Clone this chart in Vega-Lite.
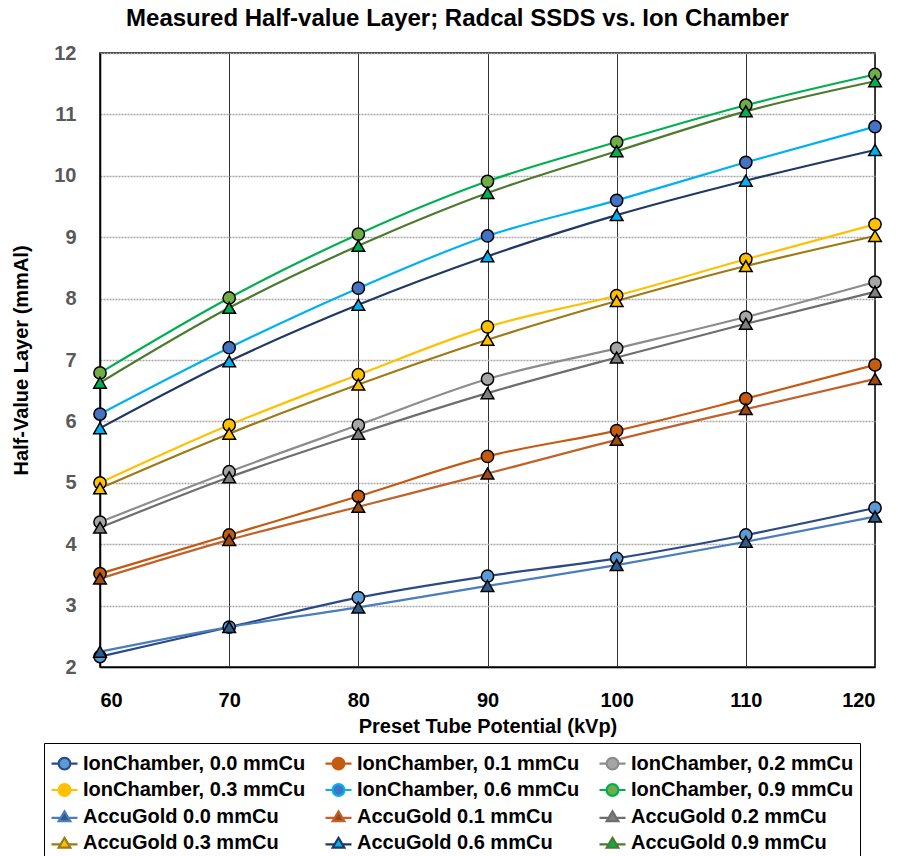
{
  "$schema": "https://vega.github.io/schema/vega-lite/v6.json",
  "autosize": {"type": "none"},
  "width": 775,
  "height": 614,
  "padding": {"left": 100, "top": 53, "right": 23, "bottom": 189},
  "background": "white",
  "title": {
    "text": "Measured Half-value Layer; Radcal SSDS vs. Ion Chamber",
    "font": "Liberation Sans",
    "fontSize": 24,
    "fontWeight": "bold",
    "color": "#000000",
    "anchor": "middle",
    "dx": -30,
    "offset": 12
  },
  "config": {
    "view": {"stroke": "#000000", "strokeWidth": 1.5},
    "axis": {
      "labelFont": "Liberation Sans",
      "titleFont": "Liberation Sans",
      "labelFontWeight": "bold",
      "titleFontWeight": "bold",
      "labelFontSize": 20,
      "titleFontSize": 20,
      "titleColor": "#000000",
      "ticks": false,
      "domainColor": "#000000",
      "domainWidth": 1.5
    }
  },
  "data": {
    "values": [
      {"series": "IonChamber, 0.0 mmCu", "kvp": 60, "hvl": 2.17},
      {"series": "IonChamber, 0.0 mmCu", "kvp": 70, "hvl": 2.65},
      {"series": "IonChamber, 0.0 mmCu", "kvp": 80, "hvl": 3.13},
      {"series": "IonChamber, 0.0 mmCu", "kvp": 90, "hvl": 3.48},
      {"series": "IonChamber, 0.0 mmCu", "kvp": 100, "hvl": 3.77},
      {"series": "IonChamber, 0.0 mmCu", "kvp": 110, "hvl": 4.15},
      {"series": "IonChamber, 0.0 mmCu", "kvp": 120, "hvl": 4.59},
      {"series": "IonChamber, 0.1 mmCu", "kvp": 60, "hvl": 3.52},
      {"series": "IonChamber, 0.1 mmCu", "kvp": 70, "hvl": 4.15},
      {"series": "IonChamber, 0.1 mmCu", "kvp": 80, "hvl": 4.78},
      {"series": "IonChamber, 0.1 mmCu", "kvp": 90, "hvl": 5.43},
      {"series": "IonChamber, 0.1 mmCu", "kvp": 100, "hvl": 5.85},
      {"series": "IonChamber, 0.1 mmCu", "kvp": 110, "hvl": 6.37},
      {"series": "IonChamber, 0.1 mmCu", "kvp": 120, "hvl": 6.92},
      {"series": "IonChamber, 0.2 mmCu", "kvp": 60, "hvl": 4.36},
      {"series": "IonChamber, 0.2 mmCu", "kvp": 70, "hvl": 5.18},
      {"series": "IonChamber, 0.2 mmCu", "kvp": 80, "hvl": 5.94},
      {"series": "IonChamber, 0.2 mmCu", "kvp": 90, "hvl": 6.69},
      {"series": "IonChamber, 0.2 mmCu", "kvp": 100, "hvl": 7.19},
      {"series": "IonChamber, 0.2 mmCu", "kvp": 110, "hvl": 7.70},
      {"series": "IonChamber, 0.2 mmCu", "kvp": 120, "hvl": 8.27},
      {"series": "IonChamber, 0.3 mmCu", "kvp": 60, "hvl": 5.00},
      {"series": "IonChamber, 0.3 mmCu", "kvp": 70, "hvl": 5.94},
      {"series": "IonChamber, 0.3 mmCu", "kvp": 80, "hvl": 6.76},
      {"series": "IonChamber, 0.3 mmCu", "kvp": 90, "hvl": 7.54},
      {"series": "IonChamber, 0.3 mmCu", "kvp": 100, "hvl": 8.05},
      {"series": "IonChamber, 0.3 mmCu", "kvp": 110, "hvl": 8.64},
      {"series": "IonChamber, 0.3 mmCu", "kvp": 120, "hvl": 9.21},
      {"series": "IonChamber, 0.6 mmCu", "kvp": 60, "hvl": 6.12},
      {"series": "IonChamber, 0.6 mmCu", "kvp": 70, "hvl": 7.20},
      {"series": "IonChamber, 0.6 mmCu", "kvp": 80, "hvl": 8.17},
      {"series": "IonChamber, 0.6 mmCu", "kvp": 90, "hvl": 9.02},
      {"series": "IonChamber, 0.6 mmCu", "kvp": 100, "hvl": 9.60},
      {"series": "IonChamber, 0.6 mmCu", "kvp": 110, "hvl": 10.22},
      {"series": "IonChamber, 0.6 mmCu", "kvp": 120, "hvl": 10.80},
      {"series": "IonChamber, 0.9 mmCu", "kvp": 60, "hvl": 6.79},
      {"series": "IonChamber, 0.9 mmCu", "kvp": 70, "hvl": 8.01},
      {"series": "IonChamber, 0.9 mmCu", "kvp": 80, "hvl": 9.05},
      {"series": "IonChamber, 0.9 mmCu", "kvp": 90, "hvl": 9.91},
      {"series": "IonChamber, 0.9 mmCu", "kvp": 100, "hvl": 10.55},
      {"series": "IonChamber, 0.9 mmCu", "kvp": 110, "hvl": 11.15},
      {"series": "IonChamber, 0.9 mmCu", "kvp": 120, "hvl": 11.65},
      {"series": "AccuGold 0.0 mmCu", "kvp": 60, "hvl": 2.25},
      {"series": "AccuGold 0.0 mmCu", "kvp": 70, "hvl": 2.65},
      {"series": "AccuGold 0.0 mmCu", "kvp": 80, "hvl": 2.97},
      {"series": "AccuGold 0.0 mmCu", "kvp": 90, "hvl": 3.32},
      {"series": "AccuGold 0.0 mmCu", "kvp": 100, "hvl": 3.66},
      {"series": "AccuGold 0.0 mmCu", "kvp": 110, "hvl": 4.04},
      {"series": "AccuGold 0.0 mmCu", "kvp": 120, "hvl": 4.45},
      {"series": "AccuGold 0.1 mmCu", "kvp": 60, "hvl": 3.44},
      {"series": "AccuGold 0.1 mmCu", "kvp": 70, "hvl": 4.07},
      {"series": "AccuGold 0.1 mmCu", "kvp": 80, "hvl": 4.61},
      {"series": "AccuGold 0.1 mmCu", "kvp": 90, "hvl": 5.15},
      {"series": "AccuGold 0.1 mmCu", "kvp": 100, "hvl": 5.70},
      {"series": "AccuGold 0.1 mmCu", "kvp": 110, "hvl": 6.20},
      {"series": "AccuGold 0.1 mmCu", "kvp": 120, "hvl": 6.69},
      {"series": "AccuGold 0.2 mmCu", "kvp": 60, "hvl": 4.27},
      {"series": "AccuGold 0.2 mmCu", "kvp": 70, "hvl": 5.09},
      {"series": "AccuGold 0.2 mmCu", "kvp": 80, "hvl": 5.80},
      {"series": "AccuGold 0.2 mmCu", "kvp": 90, "hvl": 6.46},
      {"series": "AccuGold 0.2 mmCu", "kvp": 100, "hvl": 7.04},
      {"series": "AccuGold 0.2 mmCu", "kvp": 110, "hvl": 7.59},
      {"series": "AccuGold 0.2 mmCu", "kvp": 120, "hvl": 8.11},
      {"series": "AccuGold 0.3 mmCu", "kvp": 60, "hvl": 4.91},
      {"series": "AccuGold 0.3 mmCu", "kvp": 70, "hvl": 5.80},
      {"series": "AccuGold 0.3 mmCu", "kvp": 80, "hvl": 6.60},
      {"series": "AccuGold 0.3 mmCu", "kvp": 90, "hvl": 7.33},
      {"series": "AccuGold 0.3 mmCu", "kvp": 100, "hvl": 7.96},
      {"series": "AccuGold 0.3 mmCu", "kvp": 110, "hvl": 8.53},
      {"series": "AccuGold 0.3 mmCu", "kvp": 120, "hvl": 9.02},
      {"series": "AccuGold 0.6 mmCu", "kvp": 60, "hvl": 5.89},
      {"series": "AccuGold 0.6 mmCu", "kvp": 70, "hvl": 6.98},
      {"series": "AccuGold 0.6 mmCu", "kvp": 80, "hvl": 7.90},
      {"series": "AccuGold 0.6 mmCu", "kvp": 90, "hvl": 8.69},
      {"series": "AccuGold 0.6 mmCu", "kvp": 100, "hvl": 9.36},
      {"series": "AccuGold 0.6 mmCu", "kvp": 110, "hvl": 9.92},
      {"series": "AccuGold 0.6 mmCu", "kvp": 120, "hvl": 10.42},
      {"series": "AccuGold 0.9 mmCu", "kvp": 60, "hvl": 6.63},
      {"series": "AccuGold 0.9 mmCu", "kvp": 70, "hvl": 7.85},
      {"series": "AccuGold 0.9 mmCu", "kvp": 80, "hvl": 8.86},
      {"series": "AccuGold 0.9 mmCu", "kvp": 90, "hvl": 9.72},
      {"series": "AccuGold 0.9 mmCu", "kvp": 100, "hvl": 10.40},
      {"series": "AccuGold 0.9 mmCu", "kvp": 110, "hvl": 11.05},
      {"series": "AccuGold 0.9 mmCu", "kvp": 120, "hvl": 11.54}
    ]
  },
  "encoding": {
    "x": {
      "field": "kvp",
      "type": "quantitative",
      "scale": {"domain": [60, 120], "nice": false, "zero": false},
      "axis": {
        "values": [60, 70, 80, 90, 100, 110, 120],
        "title": "Preset Tube Potential (kVp)",
        "labelColor": "#000000",
        "labelPadding": 23,
        "titlePadding": 6,
        "gridColor": "#333333",
        "gridWidth": 1
      }
    },
    "y": {
      "field": "hvl",
      "type": "quantitative",
      "scale": {"domain": [2, 12], "nice": false, "zero": false},
      "axis": {
        "values": [2, 3, 4, 5, 6, 7, 8, 9, 10, 11, 12],
        "title": "Half-Value Layer (mmAl)",
        "labelColor": "#595959",
        "labelPadding": 24,
        "titlePadding": 22,
        "gridColor": "#A6A6A6",
        "gridWidth": 1.5,
        "gridDash": [2, 1]
      }
    }
  },
  "layer": [
    {
      "mark": {"type": "line", "interpolate": "monotone"},
      "encoding": {
        "detail": {"field": "series"},
        "stroke": {
          "field": "series",
          "type": "nominal",
          "scale": {
            "domain": ["IonChamber, 0.0 mmCu", "IonChamber, 0.1 mmCu", "IonChamber, 0.2 mmCu", "IonChamber, 0.3 mmCu", "IonChamber, 0.6 mmCu", "IonChamber, 0.9 mmCu", "AccuGold 0.0 mmCu", "AccuGold 0.1 mmCu", "AccuGold 0.2 mmCu", "AccuGold 0.3 mmCu", "AccuGold 0.6 mmCu", "AccuGold 0.9 mmCu"],
            "range": ["#2A4A85", "#C55A11", "#8C8C8C", "#FFC000", "#00B0F0", "#00B050", "#4A7EBB", "#C0622B", "#6E6E6E", "#9C7A14", "#203864", "#4E7A2E"]
          },
          "legend": {
            "title": null,
            "orient": "none",
            "legendX": -56,
            "legendY": 690,
            "columns": 3,
            "direction": "horizontal",
            "columnPadding": 15,
            "rowPadding": 1.5,
            "padding": 6,
            "fillColor": "#FFFFFF",
            "strokeColor": "#000000",
            "labelFont": "Liberation Sans",
            "labelFontSize": 20,
            "labelFontWeight": "bold",
            "labelColor": "#000000",
            "labelLimit": 400,
            "labelOffset": 4,
            "symbolSize": 676,
            "symbolStrokeWidth": 1.5,
            "symbolType": {"expr": "indexof(datum.value, 'Ion') === 0 ? 'M-1,0H-0.45M0.45,0H1M-0.45,0A0.45,0.45 0 1,1 0.45,0A0.45,0.45 0 1,1 -0.45,0Z' : 'M-1,0.1H-0.35M0.35,0.1H1M0,-0.4L0.45,0.36L-0.45,0.36Z'"},
            "encode": {
              "symbols": {
                "update": {
                  "shape": {"signal": "indexof(datum.value, 'Ion') === 0 ? 'M-1,0H-0.45M0.45,0H1M-0.45,0A0.45,0.45 0 1,1 0.45,0A0.45,0.45 0 1,1 -0.45,0Z' : 'M-1,0.1H-0.35M0.35,0.1H1M0,-0.4L0.45,0.36L-0.45,0.36Z'"},
                  "fill": {"scale": "fill", "field": "value"},
                  "stroke": {"scale": "stroke", "field": "value"},
                  "strokeWidth": {"value": 1.5},
                  "opacity": {"value": 1}
                }
              }
            }
          }
        },
        "strokeWidth": {
          "field": "series",
          "type": "nominal",
          "scale": {
            "domain": ["IonChamber, 0.0 mmCu", "IonChamber, 0.1 mmCu", "IonChamber, 0.2 mmCu", "IonChamber, 0.3 mmCu", "IonChamber, 0.6 mmCu", "IonChamber, 0.9 mmCu", "AccuGold 0.0 mmCu", "AccuGold 0.1 mmCu", "AccuGold 0.2 mmCu", "AccuGold 0.3 mmCu", "AccuGold 0.6 mmCu", "AccuGold 0.9 mmCu"],
            "range": [2.2, 2.2, 2.2, 2.2, 2.2, 3.5, 2, 2, 2, 2, 2, 2]
          },
          "legend": null
        }
      }
    },
    {
      "transform": [{"filter": "indexof(datum.series, 'Ion') === 0"}],
      "mark": {"type": "point", "shape": "circle", "filled": true, "opacity": 1, "stroke": "#000000", "strokeWidth": 1.5, "size": 150},
      "encoding": {
        "fill": {
          "field": "series",
          "type": "nominal",
          "scale": {
            "domain": ["IonChamber, 0.0 mmCu", "IonChamber, 0.1 mmCu", "IonChamber, 0.2 mmCu", "IonChamber, 0.3 mmCu", "IonChamber, 0.6 mmCu", "IonChamber, 0.9 mmCu", "AccuGold 0.0 mmCu", "AccuGold 0.1 mmCu", "AccuGold 0.2 mmCu", "AccuGold 0.3 mmCu", "AccuGold 0.6 mmCu", "AccuGold 0.9 mmCu"],
            "range": ["#5B9BD5", "#C55A11", "#A5A5A5", "#FFC000", "#4472C4", "#70AD47", "#2E5C8A", "#9E4A12", "#7F7F7F", "#FFC000", "#00B0F0", "#00B050"]
          },
          "legend": null
        }
      }
    },
    {
      "transform": [{"filter": "indexof(datum.series, 'Accu') === 0"}],
      "mark": {"type": "point", "shape": "triangle-up", "filled": true, "opacity": 1, "stroke": "#000000", "strokeWidth": 1.5, "size": 160},
      "encoding": {
        "fill": {
          "field": "series",
          "type": "nominal",
          "legend": null
        }
      }
    }
  ]
}
